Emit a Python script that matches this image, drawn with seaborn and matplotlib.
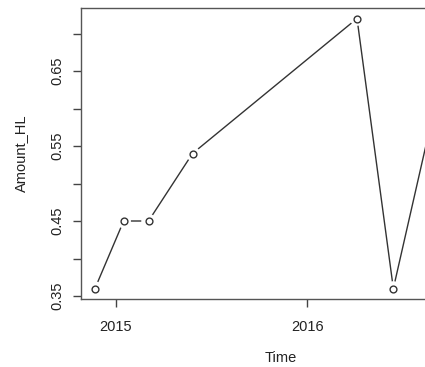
import matplotlib
matplotlib.use('Agg')
import matplotlib.pyplot as plt
import pandas as pd
import seaborn as sns

# data (decimal years)
time = [2014.89, 2015.04, 2015.17, 2015.40, 2016.26, 2016.45, 2016.70]
amount_hl = [0.36, 0.45, 0.45, 0.54, 0.72, 0.36, 0.64]
x_ticks = [2015, 2016]
x_tick_labels = ['2015', '2016']
y_ticks = [0.35, 0.40, 0.45, 0.50, 0.55, 0.60, 0.65, 0.70]
y_tick_labels = ['0.35', '', '0.45', '', '0.55', '', '0.65', '']

df = pd.DataFrame({'Time': time, 'Amount_HL': amount_hl})

sns.set_style('ticks')
plt.rcParams['font.family'] = ['Liberation Sans', 'DejaVu Sans']

fig = plt.figure(figsize=(4.25, 3.67), dpi=100)
# plot region is cropped on the right, like the original screenshot
ax = fig.add_axes([81 / 425, (367 - 299) / 367, (480 - 81) / 425, (299 - 8) / 367])

line_col = '#333333'
sns.lineplot(data=df, x='Time', y='Amount_HL', ax=ax, color=line_col,
             linewidth=1.0, sort=False, estimator=None)
# white halo so the line stops short of each point (R type="b")
sns.scatterplot(data=df, x='Time', y='Amount_HL', ax=ax, s=110, color='white',
                edgecolor='none', zorder=3)
sns.scatterplot(data=df, x='Time', y='Amount_HL', ax=ax, s=24, facecolor='white',
                edgecolor=line_col, linewidth=1.0, zorder=4)

ax.set_xlim(2014.817, 2016.903)
ax.set_ylim(0.346, 0.734)

ax.set_xticks(x_ticks)
ax.set_xticklabels(x_tick_labels)
ax.set_yticks(y_ticks)
ax.set_yticklabels(y_tick_labels, rotation=90, va='center')

ax.tick_params(axis='both', direction='out', length=6, width=1.0, color='#444444',
               labelsize=10.5, labelcolor='#222222')
ax.tick_params(axis='x', pad=9)
ax.tick_params(axis='y', pad=6)

for s in ax.spines.values():
    s.set_color('#555555')
    s.set_linewidth(1.0)

ax.set_xlabel('Time', fontsize=10.5, color='#222222', labelpad=12)
ax.set_ylabel('Amount_HL', fontsize=10.5, color='#222222', labelpad=16)

fig.savefig('out.png', dpi=100)
